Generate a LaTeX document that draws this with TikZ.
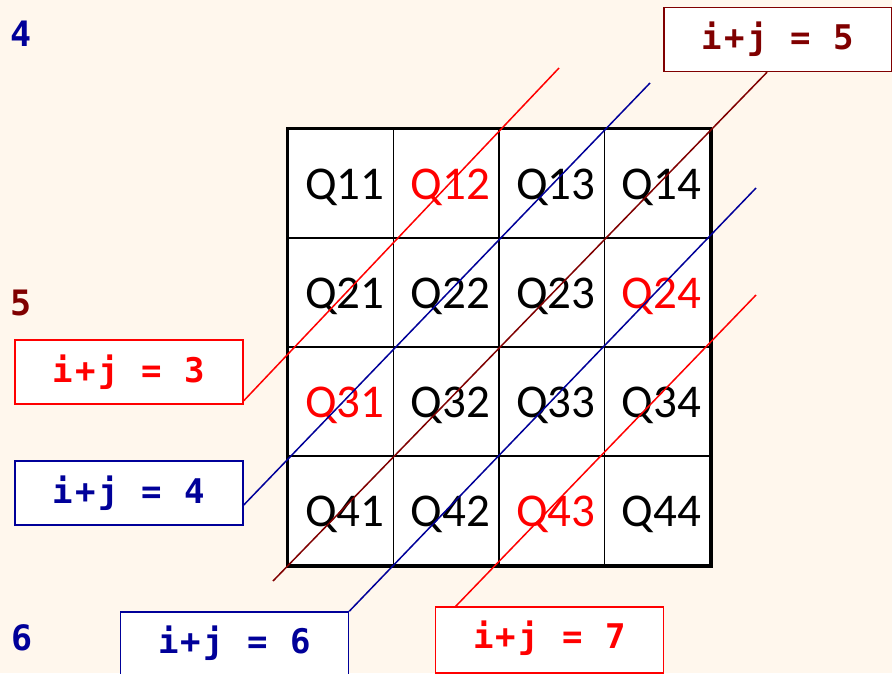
\documentclass[tikz,border=0pt]{standalone}
\usepackage{fontspec}
\newfontfamily\qfont{Carlito}
\newfontfamily\monofont{DejaVu Sans Mono}
\newfontfamily\monowide[LetterSpace=7]{DejaVu Sans Mono}
\definecolor{bg}{RGB}{255,247,237}
\definecolor{dblue}{RGB}{0,0,153}
\definecolor{dred}{RGB}{128,0,0}
\definecolor{bred}{RGB}{255,0,0}
\tikzset{
  cell/.style={draw=black, line width=1.3pt, fill=white, minimum width=105.5pt, minimum height=109pt, inner sep=0pt},
  qtext/.style={font=\qfont\fontsize{47}{56}\selectfont, inner sep=0pt, text height=31pt, text depth=0pt, anchor=center},
  eqbox/.style={draw=#1, line width=1.5pt, fill=white, text=#1, minimum width=228pt, minimum height=64pt, inner sep=0pt,
    font=\monowide\bfseries\fontsize{34}{40}\selectfont},
  numtxt/.style={text=#1, font=\monofont\bfseries\fontsize{35}{40}\selectfont, inner sep=0pt},
  eqtxt/.style={text=#1, font=\monowide\bfseries\fontsize{34}{40}\selectfont, inner sep=0pt},
  diag/.style={draw=#1, line width=1.5pt}
}
\begin{document}
\begin{tikzpicture}[x=1pt,y=-1pt]
\fill[bg] (0,0) rectangle (892,673);
\useasboundingbox (0,0) rectangle (892,673);
\clip (0,0) rectangle (892,673);
% grid
\foreach \r in {1,...,4}{
  \foreach \c in {1,...,4}{
    \node[cell] (q\r\c) at ({288+105.5*(\c-0.5)}, {129+109*(\r-0.5)}) {};
  }
}
\foreach \r/\c/\col in {1/1/black,1/2/bred,1/3/black,1/4/black,
                        2/1/black,2/2/black,2/3/black,2/4/bred,
                        3/1/bred,3/2/black,3/3/black,3/4/black,
                        4/1/black,4/2/black,4/3/bred,4/4/black}{
  \node[qtext, text=\col] (t\r\c) at ([xshift=4pt]q\r\c.center) {Q\r\c};
}
\draw[line width=2pt] (q11.north west) rectangle (q44.south east);
\draw[line width=3.5pt] ([xshift=0.8pt]q14.north east) -- ([xshift=0.8pt,yshift=-0.8pt]q44.south east) -- ([yshift=-0.8pt]q41.south west);
% numbers
\node[numtxt=dblue] (n4) at (21,34) {4};
\node[numtxt=dred] (n5) at (21,303) {5};
\node[numtxt=dblue] (n6) at (22,638) {6};
% equation boxes
\node[eqbox=bred] (b3) at (129,372) {i+j = 3};
\node[eqbox=dblue] (b4) at (129,493) {i+j = 4};
\node[eqbox=dred] (b5) at (778,39.5) {i+j = 5};
\node[eqbox=dblue, minimum height=66pt] (b6) at (234.5,645) {};
\node[eqbox=bred, minimum height=66pt] (b7) at (549.5,640) {};
\node[eqtxt=dblue] (b6t) at (234.5,643) {i+j = 6};
\node[eqtxt=bred] (b7t) at (549.5,638) {i+j = 7};
% free ends
\coordinate (e3) at (559,68);
\coordinate (e4) at (650,83);
\coordinate (e5) at (273,581);
\coordinate (e6) at (756,188);
\coordinate (e7) at (756,295);
% diagonals
\draw[diag=bred] ([yshift=4pt]b3.south east) -- (e3);
\draw[diag=dblue] ([yshift=-12pt]b4.east) -- (e4);
\draw[diag=dred] ([xshift=-11pt]b5.south) -- (e5);
\draw[diag=dblue] (b6.north east) -- (e6);
\draw[diag=bred] ([xshift=21pt]b7.north west) -- (e7);
\end{tikzpicture}
\end{document}
